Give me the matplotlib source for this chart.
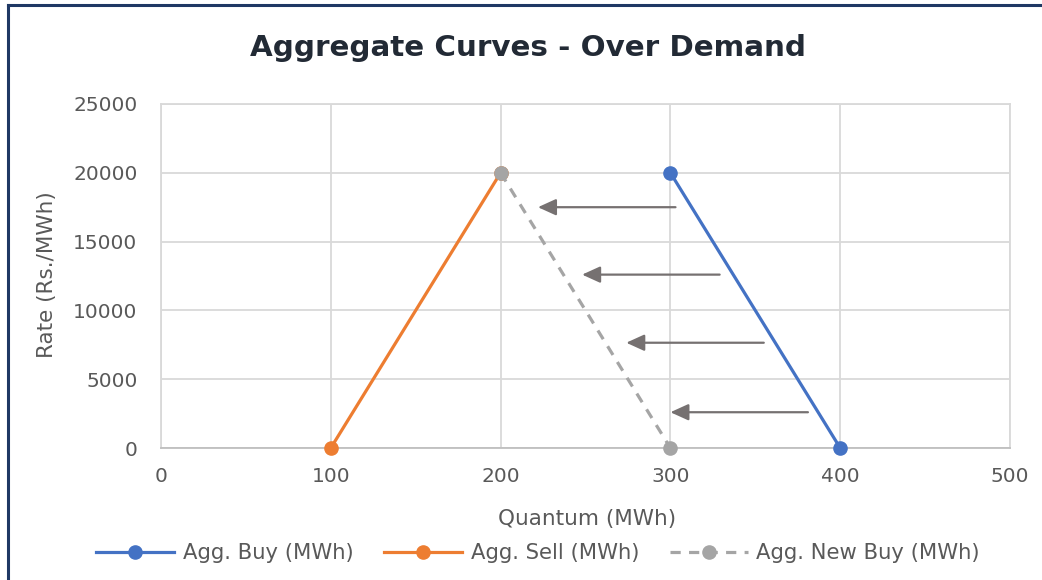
import matplotlib.pyplot as plt
from matplotlib.lines import Line2D

# series
buy_q = [300, 400]
buy_rate = [20000, 0]
sell_q = [100, 200]
sell_rate = [0, 20000]
new_buy_q = [200, 300]
new_buy_rate = [20000, 0]

# shift arrows (tail quantum, head quantum, rate)
arrow_from_q = [303, 329, 355, 381]
arrow_to_q = [222, 248, 274, 300]
arrow_rate = [17500, 12600, 7650, 2600]

x_ticks = [0, 100, 200, 300, 400, 500]
y_ticks = [0, 5000, 10000, 15000, 20000, 25000]

plt.rcParams['font.family'] = ['DejaVu Sans']

fig = plt.figure(figsize=(10.42, 5.8), dpi=100)
ax = fig.add_axes([161 / 1042, 1 - 448 / 580, 849 / 1042, 344 / 580])

ax.plot(buy_q, buy_rate, color='#4472c4', lw=2.3, marker='o', ms=9.5,
        label='Agg. Buy (MWh)', zorder=3, clip_on=False)
ax.plot(sell_q, sell_rate, color='#ed7d31', lw=2.3, marker='o', ms=9.5,
        label='Agg. Sell (MWh)', zorder=3, clip_on=False)
gl, = ax.plot(new_buy_q, new_buy_rate, color='#a5a5a5', lw=2.3, marker='o', ms=9.5,
              label='Agg. New Buy (MWh)', zorder=4, clip_on=False)
gl.set_dashes((3.2, 2.6))

for x0, x1, y in zip(arrow_from_q, arrow_to_q, arrow_rate):
    ax.annotate('', xy=(x1, y), xytext=(x0, y),
                arrowprops=dict(arrowstyle='-|>,head_length=0.55,head_width=0.25',
                                color='#767171', lw=1.6, mutation_scale=20,
                                shrinkA=0, shrinkB=0), zorder=5)

ax.set_xlim(0, 500)
ax.set_ylim(0, 25000)
ax.set_xticks(x_ticks)
ax.set_yticks(y_ticks)
ax.grid(True, color='#d9d9d9', lw=1.3)
ax.set_axisbelow(True)
for s in ax.spines.values():
    s.set_color('#d9d9d9')
    s.set_linewidth(1.3)
ax.spines['bottom'].set_color('#bfbfbf')
ax.tick_params(length=0, labelsize=14.5, labelcolor='#595959')
ax.tick_params(axis='x', pad=14)
ax.tick_params(axis='y', pad=17)

fig.text(528 / 1042, 1 - 48 / 580, 'Aggregate Curves - Over Demand', ha='center', va='center',
         fontsize=21.2, fontweight='bold', color='#222a35')
fig.text(587 / 1042, 1 - 519 / 580, 'Quantum (MWh)', ha='center', va='center',
         fontsize=15.5, color='#595959')
fig.text(47 / 1042, 1 - 275 / 580, 'Rate (Rs./MWh)', ha='center', va='center',
         fontsize=15.5, color='#595959', rotation=90)

leg = fig.legend(loc='center', bbox_to_anchor=(538 / 1042, 1 - 553 / 580), ncol=3,
                 frameon=False, fontsize=15.2, handlelength=3.7, columnspacing=1.45,
                 handletextpad=0.4, labelcolor='#595959')

# figure border (top and left edges visible)
fig.add_artist(Line2D([8 / 1042, 1], [1 - 5 / 580, 1 - 5 / 580], color='#1f3864', lw=2.2,
                      transform=fig.transFigure))
fig.add_artist(Line2D([8 / 1042, 8 / 1042], [0, 1 - 5 / 580], color='#1f3864', lw=2.2,
                      transform=fig.transFigure))

fig.savefig('out.png', dpi=100)
